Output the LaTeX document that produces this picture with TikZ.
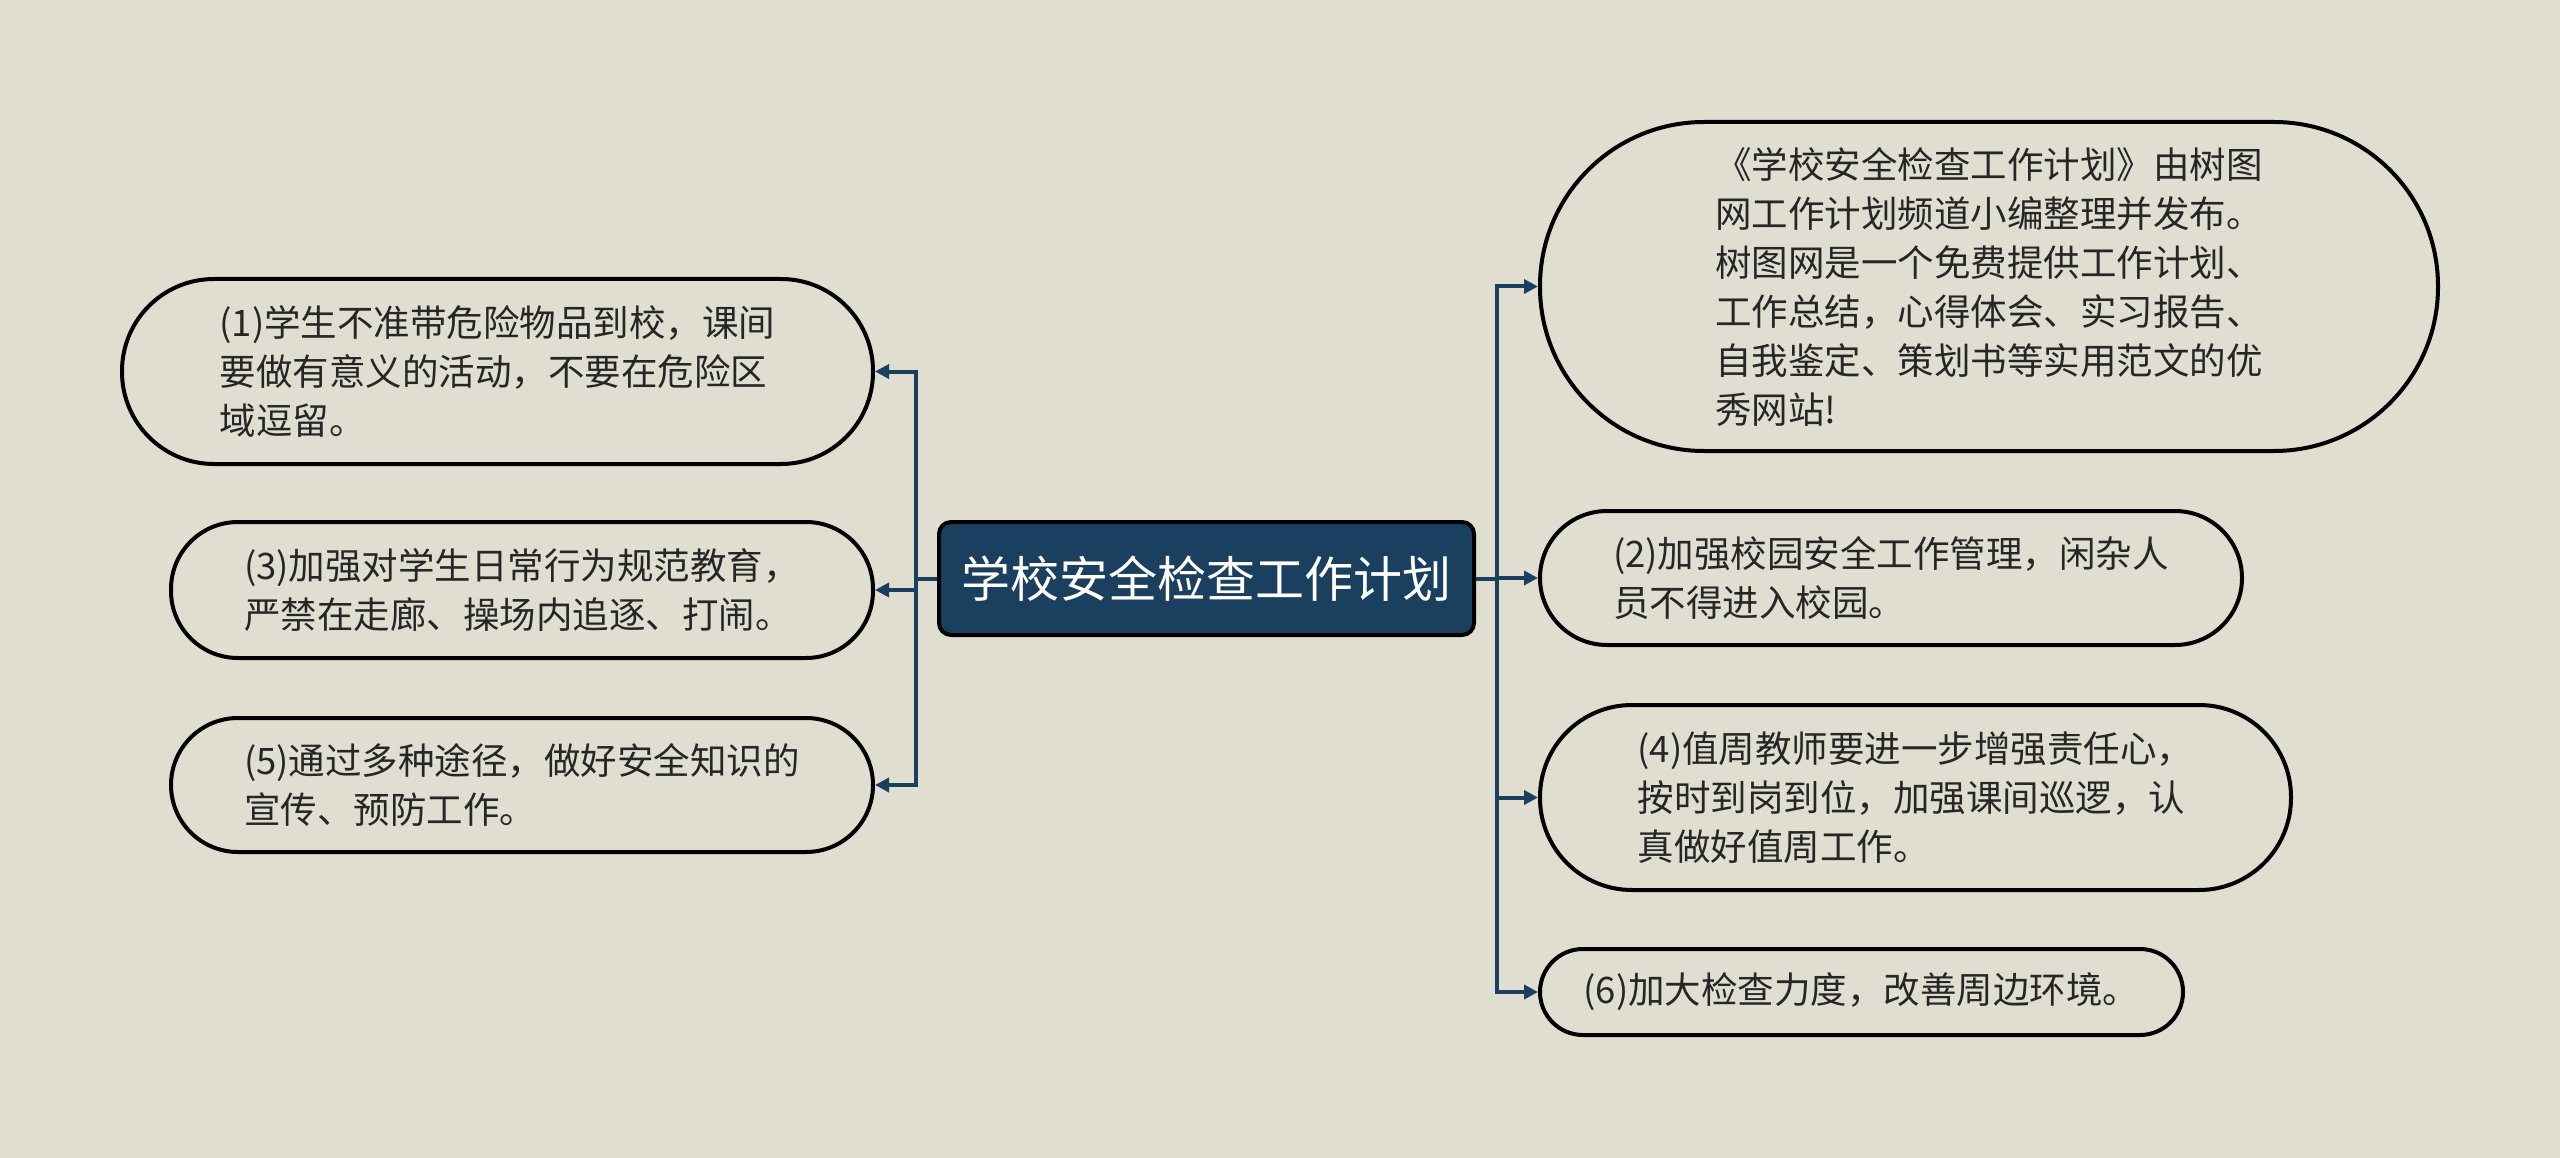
\documentclass[tikz,border=0pt]{standalone}
\usepackage{fontspec}
\newfontfamily\cjk{Noto Sans CJK SC}
\usetikzlibrary{arrows.meta}
\definecolor{bg}{HTML}{DFDED1}
\definecolor{navy}{HTML}{1B3F5E}
\definecolor{ink}{HTML}{262626}
\begin{document}
\begin{tikzpicture}[x=1pt,y=-1pt,
  bubble/.style={draw=black, line width=4pt, fill=bg, text=ink, align=left, inner sep=0pt,
    font=\cjk\fontsize{36.5}{49}\selectfont, rounded corners=#1},
  root/.style={draw=black, line width=4pt, fill=navy, text=white, rounded corners=12pt,
    inner sep=0pt, font=\cjk\fontsize{49}{56}\selectfont},
  conn/.style={draw=navy, line width=4pt},
  arr/.style={conn, -{Triangle[length=14pt,width=14pt]}}]
\fill[bg] (0,0) rectangle (2560,1158);
\useasboundingbox (0,0) rectangle (2560,1158);

\node[root, minimum width=535pt, minimum height=113pt] (c) at (1206.5,578.5) {学校安全检查工作计划};

\node[bubble=92pt, minimum width=751pt, minimum height=185pt] (l1) at (497.5,371.5)
  {(1)学生不准带危险物品到校，课间\\要做有意义的活动，不要在危险区\\域逗留。};
\node[bubble=67pt, minimum width=702pt, minimum height=136pt] (l2) at (522,590)
  {(3)加强对学生日常行为规范教育，\\严禁在走廊、操场内追逐、打闹。};
\node[bubble=67pt, minimum width=702pt, minimum height=134pt] (l3) at (522,785)
  {(5)通过多种途径，做好安全知识的\\宣传、预防工作。};

\node[bubble=164pt, minimum width=898pt, minimum height=329pt] (r1) at (1989,286.5)
  {《学校安全检查工作计划》由树图\\网工作计划频道小编整理并发布。\\树图网是一个免费提供工作计划、\\工作总结，心得体会、实习报告、\\自我鉴定、策划书等实用范文的优\\秀网站!};
\node[bubble=67pt, minimum width=702pt, minimum height=134pt] (r2) at (1891,578)
  {(2)加强校园安全工作管理，闲杂人\\员不得进入校园。};
\node[bubble=92pt, minimum width=751pt, minimum height=185pt] (r3) at (1915.5,797.5)
  {(4)值周教师要进一步增强责任心，\\按时到岗到位，加强课间巡逻，认\\真做好值周工作。};
\node[bubble=43pt, minimum width=643pt, minimum height=86pt] (r4) at (1861.5,992)
  {(6)加大检查力度，改善周边环境。};

\coordinate (tr) at (1497,578.5);
\coordinate (tl) at (916,578.5);
\draw[conn] (c.east) -- (tr);
\draw[conn] (c.west) -- (tl);
\draw[arr] (tr) |- (r1.west);
\draw[arr] (tr) |- (r2.west);
\draw[arr] (tr) |- (r3.west);
\draw[arr] (tr) |- (r4.west);
\draw[arr] (tl) |- (l1.east);
\draw[arr] (tl) |- (l2.east);
\draw[arr] (tl) |- (l3.east);
\end{tikzpicture}
\end{document}
